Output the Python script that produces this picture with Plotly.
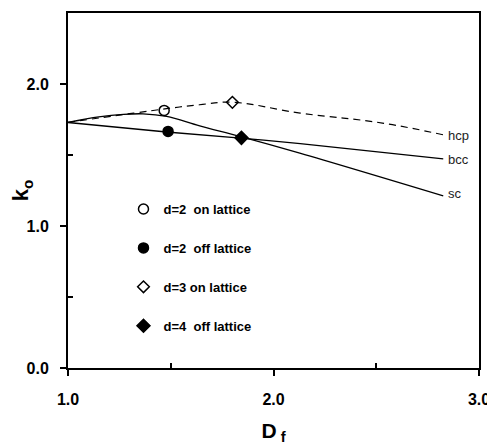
import plotly.graph_objects as go

# curves
hcp_x = [1.0, 1.32, 1.64, 1.80, 2.13, 2.53, 2.826]
hcp_y = [1.729, 1.795, 1.854, 1.871, 1.795, 1.725, 1.642]
bcc_x = [1.0, 1.48, 1.84, 2.13, 2.826]
bcc_y = [1.729, 1.662, 1.619, 1.580, 1.473]
sc_x = [1.0, 1.15, 1.27, 1.365, 1.48, 1.641, 1.836, 2.128, 2.826]
sc_y = [1.729, 1.768, 1.786, 1.790, 1.772, 1.705, 1.631, 1.513, 1.212]

# points
pt_names = ["d=2  on lattice", "d=2  off lattice", "d=3 on lattice", "d=4  off lattice"]
pt_x = [1.468, 1.487, 1.80, 1.844]
pt_y = [1.814, 1.666, 1.871, 1.621]
pt_symbols = ["circle-open", "circle", "diamond-open", "diamond"]
pt_sizes = [10, 10, 9, 10]

curve_labels = ["hcp", "bcc", "sc"]
label_y = [1.635, 1.466, 1.231]

x_ticks = [1.0, 2.0, 3.0]
y_ticks = [0.0, 1.0, 2.0]

fig = go.Figure()
fig.add_trace(go.Scatter(x=hcp_x, y=hcp_y, mode="lines", line=dict(color="black", width=1.2, dash="7px,5px", shape="spline", smoothing=1.2), showlegend=False, hoverinfo="skip"))
fig.add_trace(go.Scatter(x=bcc_x, y=bcc_y, mode="lines", line=dict(color="black", width=1.3, shape="spline"), showlegend=False, hoverinfo="skip"))
fig.add_trace(go.Scatter(x=sc_x, y=sc_y, mode="lines", line=dict(color="black", width=1.3, shape="spline", smoothing=1.0), showlegend=False, hoverinfo="skip"))

for i in range(len(pt_names)):
    fig.add_trace(go.Scatter(
        x=[pt_x[i]], y=[pt_y[i]], mode="markers", name=pt_names[i],
        legendgroup=str(i),
        marker=dict(symbol=pt_symbols[i], size=pt_sizes[i], color="black",
                    line=dict(color="black", width=1.5)),
    ))

for i, t in enumerate(curve_labels):
    fig.add_annotation(x=2.84, y=label_y[i], text=t, showarrow=False, xanchor="left",
                       yanchor="middle", font=dict(size=13, color="#222", family="Liberation Sans"))

axis_common = dict(
    showgrid=False, zeroline=False, showline=True, linecolor="black", linewidth=2,
    mirror=True, ticks="outside", ticklen=6, tickwidth=1.5, tickcolor="black",
    tickfont=dict(size=16, family="Liberation Sans", color="black", weight="bold"),
    tickformat=".1f", automargin=False,
)

fig.update_layout(
    width=487, height=437,
    margin=dict(l=60, r=16, t=5, b=77),
    plot_bgcolor="white", paper_bgcolor="white",
    xaxis=dict(range=[1.0, 3.0], tickvals=x_ticks,
               minor=dict(tickvals=[1.5, 2.5], ticks="inside", ticklen=5, tickcolor="black", tickwidth=1.5),
               title=dict(text="D<sub> f</sub>", font=dict(size=21, family="Liberation Sans", weight="bold", color="black"), standoff=19),
               ticklabelstandoff=10,
               **axis_common),
    yaxis=dict(range=[0.0, 2.5], tickvals=y_ticks,
               minor=dict(tickvals=[0.5, 1.5], ticks="inside", ticklen=5, tickcolor="black", tickwidth=1.5),
               title=dict(text="k<sub>o</sub>", font=dict(size=22, family="Liberation Sans", weight="bold", color="black"), standoff=4),
               ticklabelstandoff=8,
               **axis_common),
    legend=dict(x=0.135, y=0.49, xanchor="left", yanchor="top",
                font=dict(size=13, family="Liberation Sans", weight="bold", color="black"),
                bgcolor="rgba(0,0,0,0)", tracegroupgap=19, itemwidth=30),
    showlegend=True,
)

fig.write_html("out.html")
